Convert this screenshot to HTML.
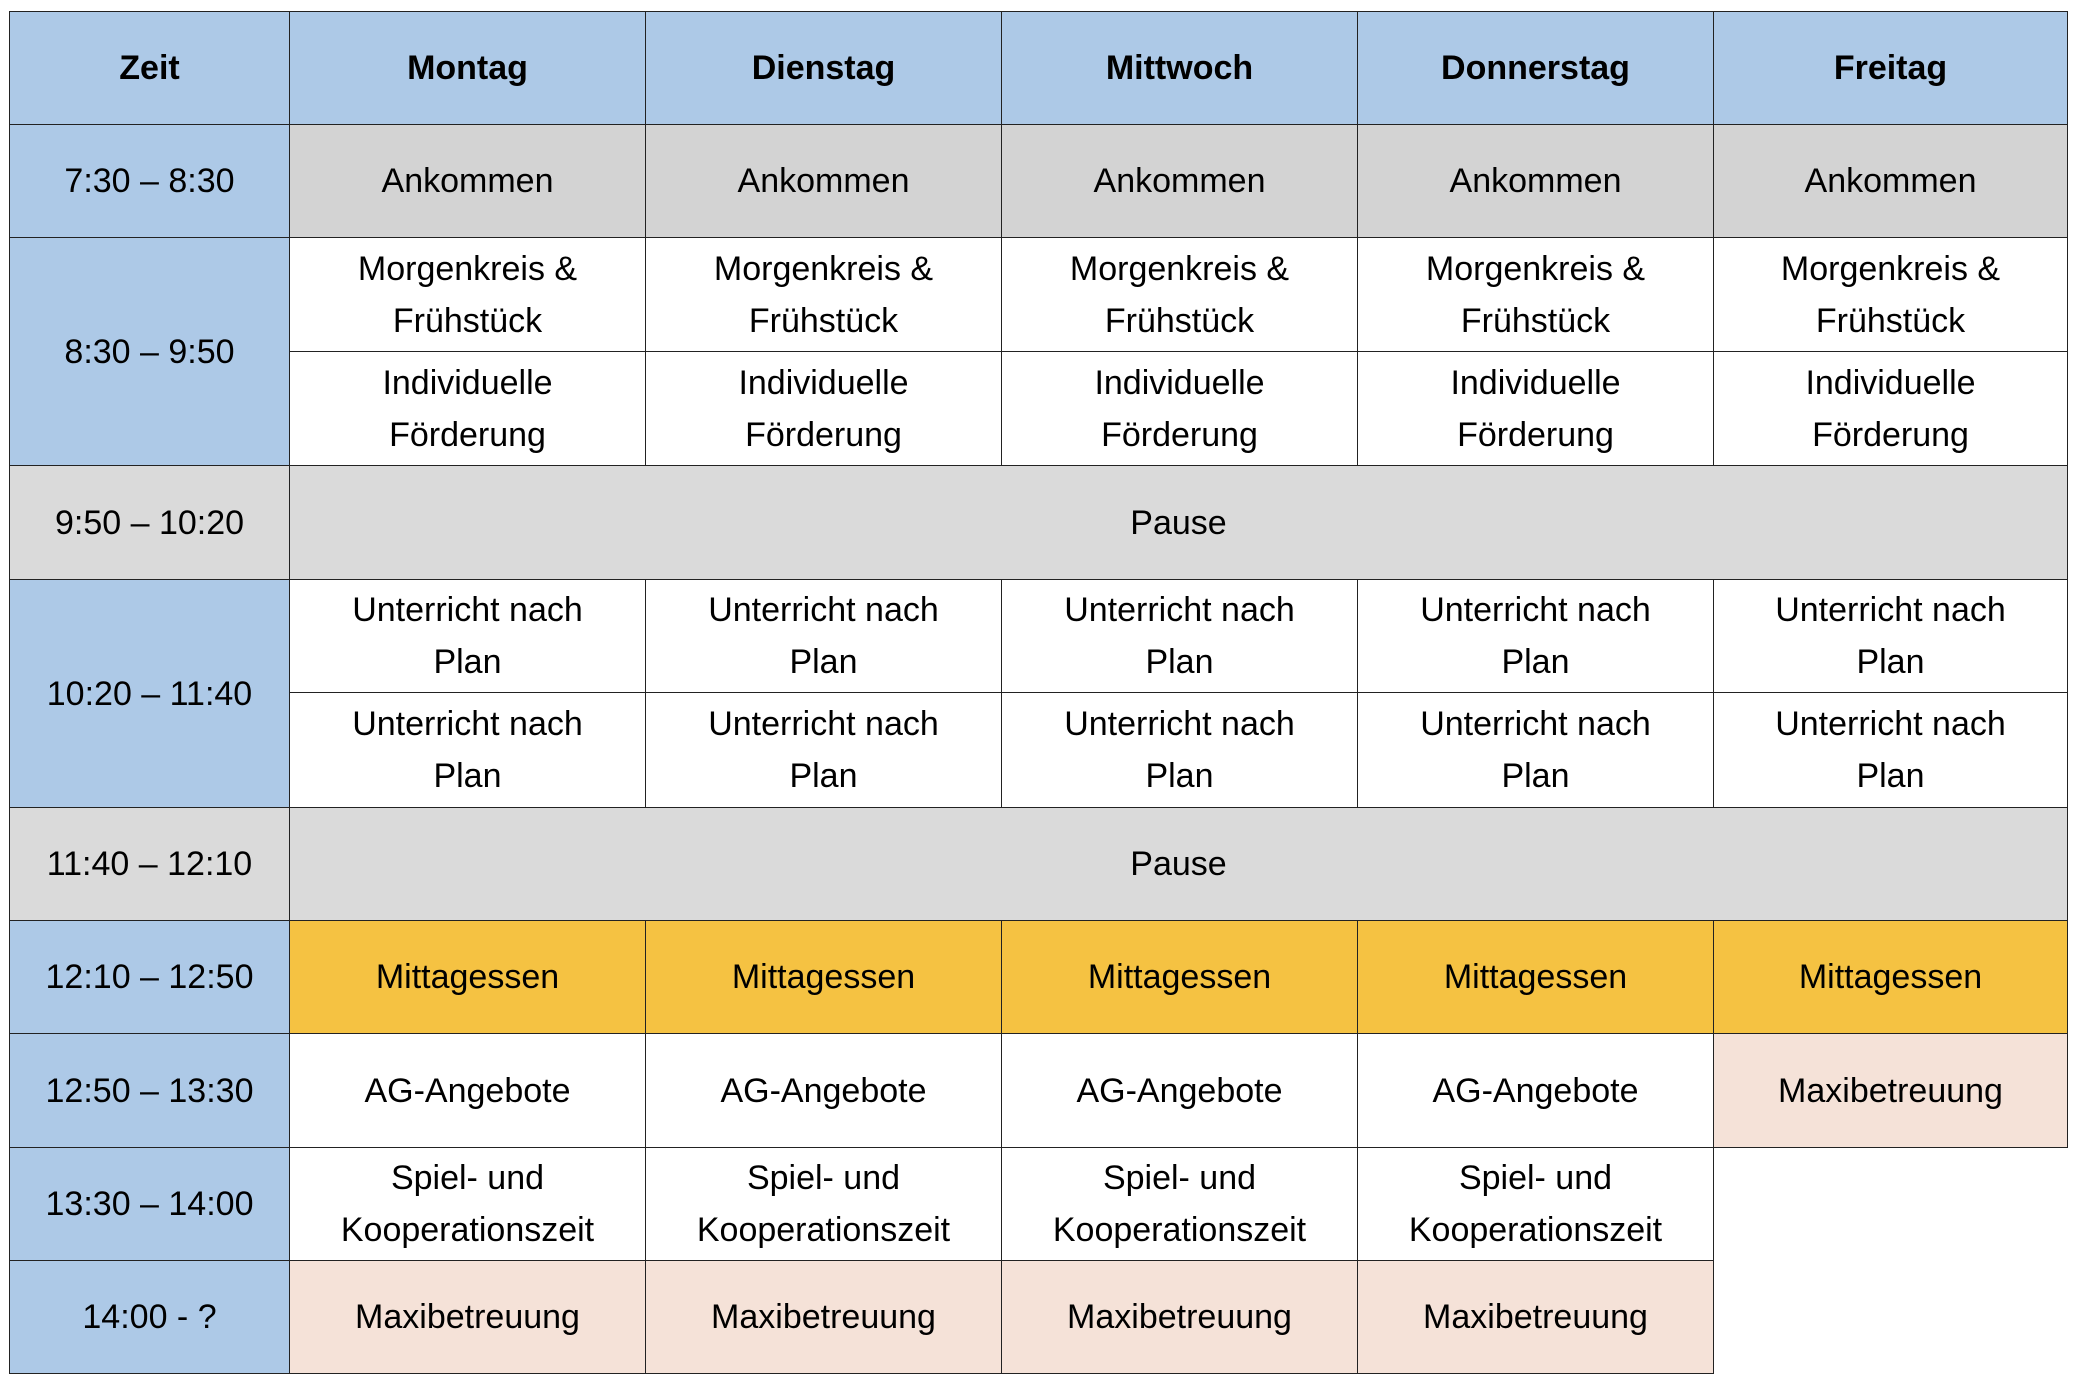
<!DOCTYPE html>
<html><head><meta charset="utf-8"><style>
body{margin:0;width:2090px;height:1392px;background:#fff;position:relative;font-family:"Liberation Sans",sans-serif;}
.c{position:absolute;box-sizing:border-box;border:1.5px solid #222;display:flex;align-items:center;justify-content:center;text-align:center;font-size:34px;line-height:52px;color:#000;}
.b{background:#adc9e7}.g{background:#d3d3d3}.p{background:#dadada}.y{background:#f5c242}.r{background:#f5e2d8}.w{background:#fff}
.h{font-weight:bold}
</style></head><body>
<div class="c b h" style="left:9px;top:11px;width:281px;height:114px">Zeit</div>
<div class="c b h" style="left:289px;top:11px;width:357px;height:114px">Montag</div>
<div class="c b h" style="left:645px;top:11px;width:357px;height:114px">Dienstag</div>
<div class="c b h" style="left:1001px;top:11px;width:357px;height:114px">Mittwoch</div>
<div class="c b h" style="left:1357px;top:11px;width:357px;height:114px">Donnerstag</div>
<div class="c b h" style="left:1713px;top:11px;width:355px;height:114px">Freitag</div>

<div class="c b" style="left:9px;top:124px;width:281px;height:114px">7:30 – 8:30</div>
<div class="c g" style="left:289px;top:124px;width:357px;height:114px">Ankommen</div>
<div class="c g" style="left:645px;top:124px;width:357px;height:114px">Ankommen</div>
<div class="c g" style="left:1001px;top:124px;width:357px;height:114px">Ankommen</div>
<div class="c g" style="left:1357px;top:124px;width:357px;height:114px">Ankommen</div>
<div class="c g" style="left:1713px;top:124px;width:355px;height:114px">Ankommen</div>

<div class="c b" style="left:9px;top:237px;width:281px;height:229px">8:30 – 9:50</div>
<div class="c w" style="left:289px;top:237px;width:357px;height:115px">Morgenkreis &amp;<br>Frühstück</div>
<div class="c w" style="left:645px;top:237px;width:357px;height:115px">Morgenkreis &amp;<br>Frühstück</div>
<div class="c w" style="left:1001px;top:237px;width:357px;height:115px">Morgenkreis &amp;<br>Frühstück</div>
<div class="c w" style="left:1357px;top:237px;width:357px;height:115px">Morgenkreis &amp;<br>Frühstück</div>
<div class="c w" style="left:1713px;top:237px;width:355px;height:115px">Morgenkreis &amp;<br>Frühstück</div>
<div class="c w" style="left:289px;top:351px;width:357px;height:115px">Individuelle<br>Förderung</div>
<div class="c w" style="left:645px;top:351px;width:357px;height:115px">Individuelle<br>Förderung</div>
<div class="c w" style="left:1001px;top:351px;width:357px;height:115px">Individuelle<br>Förderung</div>
<div class="c w" style="left:1357px;top:351px;width:357px;height:115px">Individuelle<br>Förderung</div>
<div class="c w" style="left:1713px;top:351px;width:355px;height:115px">Individuelle<br>Förderung</div>

<div class="c p" style="left:9px;top:465px;width:281px;height:115px">9:50 – 10:20</div>
<div class="c p" style="left:289px;top:465px;width:1779px;height:115px">Pause</div>

<div class="c b" style="left:9px;top:579px;width:281px;height:229px">10:20 – 11:40</div>
<div class="c w" style="left:289px;top:579px;width:357px;height:114px">Unterricht nach<br>Plan</div>
<div class="c w" style="left:645px;top:579px;width:357px;height:114px">Unterricht nach<br>Plan</div>
<div class="c w" style="left:1001px;top:579px;width:357px;height:114px">Unterricht nach<br>Plan</div>
<div class="c w" style="left:1357px;top:579px;width:357px;height:114px">Unterricht nach<br>Plan</div>
<div class="c w" style="left:1713px;top:579px;width:355px;height:114px">Unterricht nach<br>Plan</div>
<div class="c w" style="left:289px;top:692px;width:357px;height:116px">Unterricht nach<br>Plan</div>
<div class="c w" style="left:645px;top:692px;width:357px;height:116px">Unterricht nach<br>Plan</div>
<div class="c w" style="left:1001px;top:692px;width:357px;height:116px">Unterricht nach<br>Plan</div>
<div class="c w" style="left:1357px;top:692px;width:357px;height:116px">Unterricht nach<br>Plan</div>
<div class="c w" style="left:1713px;top:692px;width:355px;height:116px">Unterricht nach<br>Plan</div>

<div class="c p" style="left:9px;top:807px;width:281px;height:114px">11:40 – 12:10</div>
<div class="c p" style="left:289px;top:807px;width:1779px;height:114px">Pause</div>

<div class="c b" style="left:9px;top:920px;width:281px;height:114px">12:10 – 12:50</div>
<div class="c y" style="left:289px;top:920px;width:357px;height:114px">Mittagessen</div>
<div class="c y" style="left:645px;top:920px;width:357px;height:114px">Mittagessen</div>
<div class="c y" style="left:1001px;top:920px;width:357px;height:114px">Mittagessen</div>
<div class="c y" style="left:1357px;top:920px;width:357px;height:114px">Mittagessen</div>
<div class="c y" style="left:1713px;top:920px;width:355px;height:114px">Mittagessen</div>

<div class="c b" style="left:9px;top:1033px;width:281px;height:115px">12:50 – 13:30</div>
<div class="c w" style="left:289px;top:1033px;width:357px;height:115px">AG-Angebote</div>
<div class="c w" style="left:645px;top:1033px;width:357px;height:115px">AG-Angebote</div>
<div class="c w" style="left:1001px;top:1033px;width:357px;height:115px">AG-Angebote</div>
<div class="c w" style="left:1357px;top:1033px;width:357px;height:115px">AG-Angebote</div>
<div class="c r" style="left:1713px;top:1033px;width:355px;height:115px">Maxibetreuung</div>

<div class="c b" style="left:9px;top:1147px;width:281px;height:114px">13:30 – 14:00</div>
<div class="c w" style="left:289px;top:1147px;width:357px;height:114px">Spiel- und<br>Kooperationszeit</div>
<div class="c w" style="left:645px;top:1147px;width:357px;height:114px">Spiel- und<br>Kooperationszeit</div>
<div class="c w" style="left:1001px;top:1147px;width:357px;height:114px">Spiel- und<br>Kooperationszeit</div>
<div class="c w" style="left:1357px;top:1147px;width:357px;height:114px">Spiel- und<br>Kooperationszeit</div>

<div class="c b" style="left:9px;top:1260px;width:281px;height:114px">14:00 - ?</div>
<div class="c r" style="left:289px;top:1260px;width:357px;height:114px">Maxibetreuung</div>
<div class="c r" style="left:645px;top:1260px;width:357px;height:114px">Maxibetreuung</div>
<div class="c r" style="left:1001px;top:1260px;width:357px;height:114px">Maxibetreuung</div>
<div class="c r" style="left:1357px;top:1260px;width:357px;height:114px">Maxibetreuung</div>
</body></html>
